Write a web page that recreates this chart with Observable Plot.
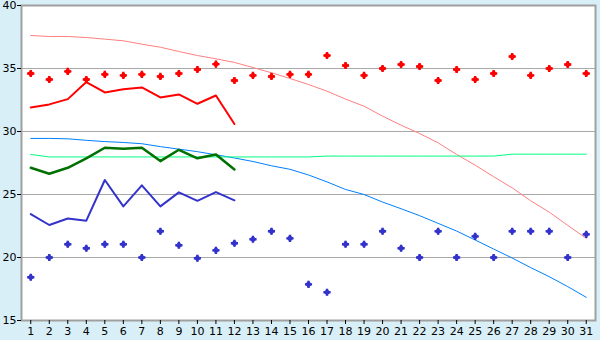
<!DOCTYPE html>
<html>
<head>
<meta charset="utf-8">
<script src="https://cdn.jsdelivr.net/npm/d3@7"></script>
<script src="https://cdn.jsdelivr.net/npm/@observablehq/plot@0.6"></script>
<style>
  html, body { margin: 0; padding: 0; background: #d9eff7; }
  #chart svg { display: block; background: #d9eff7; }
</style>
</head>
<body>
<div id="chart"></div>
<script>
const days = d3.range(1, 32);
const yTicks = [15, 20, 25, 30, 35, 40];

// red markers (daily maximum observations)
const redDots = [34.6,34.13,34.77,34.13,34.53,34.45,34.53,34.37,34.6,34.92,35.35,34.05,34.45,34.37,34.53,
  34.53,36.03,35.24,34.45,35.0,35.32,35.16,34.05,34.92,34.13,34.6,35.95,34.45,35.0,35.32,34.6];
// blue markers (daily minimum observations)
const blueDots = [18.43,20.0,21.05,20.73,21.05,21.05,20.0,22.08,20.97,19.94,20.57,21.13,21.45,22.08,21.52,
  17.87,17.24,21.05,21.05,22.08,20.73,20.0,22.08,20.0,21.68,20.0,22.08,22.08,22.08,20.0,21.84];
// red line (days 1-12)
const redLine = [31.91,32.15,32.57,33.92,33.1,33.36,33.5,32.7,32.94,32.2,32.86,30.59];
// dark green line (days 1-12)
const greenLine = [27.12,26.65,27.12,27.87,28.71,28.63,28.71,27.65,28.55,27.87,28.18,26.99];
// dark blue line (days 1-12)
const blueLine = [23.45,22.58,23.1,22.92,26.15,24.06,25.73,24.06,25.17,24.5,25.19,24.54];
// salmon curve
const salmonCurve = [37.62,37.54,37.54,37.46,37.33,37.2,36.93,36.69,36.35,36.03,35.77,35.48,35.08,34.66,34.21,
  33.73,33.2,32.57,32.01,31.22,30.5,29.84,29.1,28.18,27.33,26.41,25.53,24.5,23.6,22.55,21.52];
// light blue curve
const skyCurve = [29.45,29.45,29.42,29.3,29.2,29.13,29.03,28.8,28.6,28.4,28.15,27.9,27.62,27.28,27.0,
  26.55,26.0,25.4,25.0,24.4,23.87,23.32,22.71,22.1,21.39,20.67,19.96,19.2,18.48,17.69,16.84];
// bright green curve
const mintCurve = [28.18,27.98,27.98,27.98,27.98,27.98,27.98,27.98,27.98,27.98,27.98,27.98,27.98,27.98,27.98,
  27.98,28.05,28.05,28.05,28.05,28.05,28.05,28.05,28.05,28.05,28.05,28.2,28.2,28.2,28.2,28.2];

const toRows = arr => arr.map((v, i) => ({day: days[i], v}));

const chart = Plot.plot({
  width: 600,
  height: 340,
  marginLeft: 21,
  marginTop: 5,
  marginRight: 5,
  marginBottom: 20,
  style: {fontFamily: "DejaVu Sans", fontSize: "11px", color: "#000", background: "#d9eff7"},
  x: {domain: [0.5, 31.5], label: null},
  y: {domain: [15, 40], label: null},
  marks: [
    Plot.frame({fill: "white", stroke: "none"}),
    Plot.ruleY([20, 25, 30, 35], {stroke: "#a8a8a8", strokeWidth: 1}),
    Plot.frame({stroke: "#a0a0a0", strokeWidth: 2}),
    Plot.axisX({ticks: days, tickSize: 4, tickPadding: 3, tickFormat: d => String(d), label: null}),
    Plot.axisY({ticks: yTicks, tickSize: 4, tickPadding: 1, label: null}),
    Plot.line(toRows(salmonCurve), {x: "day", y: "v", stroke: "#ff8080", strokeWidth: 1}),
    Plot.line(toRows(skyCurve), {x: "day", y: "v", stroke: "#0080ff", strokeWidth: 1}),
    Plot.line(toRows(mintCurve), {x: "day", y: "v", stroke: "#00ff80", strokeWidth: 1}),
    Plot.line(toRows(greenLine), {x: "day", y: "v", stroke: "#007000", strokeWidth: 2.5}),
    Plot.line(toRows(redLine), {x: "day", y: "v", stroke: "#ff0000", strokeWidth: 2}),
    Plot.line(toRows(blueLine), {x: "day", y: "v", stroke: "#3333cc", strokeWidth: 2}),
    Plot.dot(toRows(redDots), {x: "day", y: "v", symbol: "cross", r: 3, fill: "#ff0000", stroke: "none"}),
    Plot.dot(toRows(redDots), {x: "day", y: "v", symbol: "diamond2", r: 3.2, fill: "#ff0000", stroke: "none"}),
    Plot.dot(toRows(blueDots), {x: "day", y: "v", symbol: "cross", r: 3, fill: "#3333cc", stroke: "none"}),
    Plot.dot(toRows(blueDots), {x: "day", y: "v", symbol: "diamond2", r: 3.2, fill: "#3333cc", stroke: "none"})
  ]
});
document.getElementById("chart").appendChild(chart);
</script>
</body>
</html>
